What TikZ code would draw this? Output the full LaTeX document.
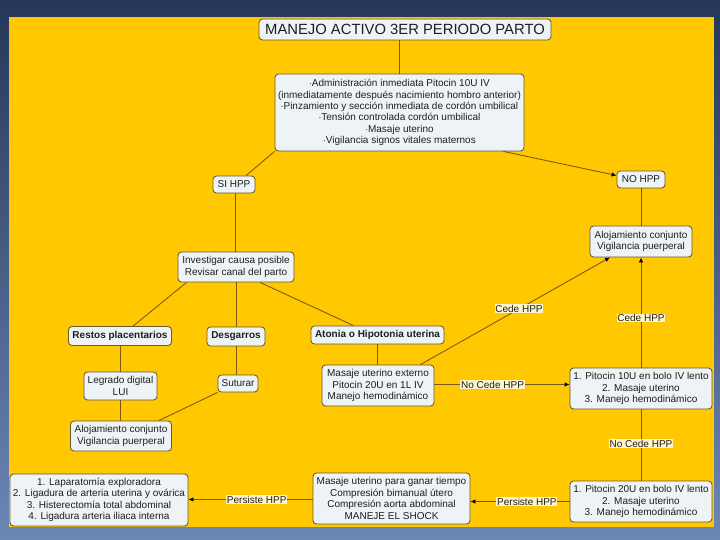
\documentclass[tikz,border=0pt]{standalone}
\usepackage{fontspec}
\setmainfont{Liberation Sans}
\usetikzlibrary{arrows.meta,calc}
\definecolor{bgtop}{RGB}{38,55,88}
\definecolor{bgbot}{RGB}{108,134,182}
\definecolor{ylw}{RGB}{255,200,0}
\definecolor{boxfill}{RGB}{238,243,246}
\definecolor{boxline}{RGB}{105,88,45}
\definecolor{conn}{RGB}{120,88,18}
\definecolor{lblfill}{RGB}{255,246,208}
\definecolor{txt}{RGB}{30,30,30}
\begin{document}
\begin{tikzpicture}[x=1pt,y=-1pt,
  box/.style={draw=boxline,fill=boxfill,rounded corners=3.5pt,line width=0.85pt,
    align=center,inner sep=0pt,font=\fontsize{10}{11.4}\selectfont,text=txt},
  bbox/.style={box,font=\fontsize{10}{11.4}\selectfont\bfseries},
  conline/.style={draw=conn,line width=0.85pt},
  arr/.style={conline,-{Latex[length=5pt,width=4.5pt,color=black]}},
  lbl/.style={fill=lblfill,inner sep=0.8pt,font=\fontsize{10}{11.4}\selectfont,text=txt}
]
\useasboundingbox (0,0) rectangle (720,540);
\shade[top color=bgtop,bottom color=bgbot] (0,0) rectangle (720,540);
\fill[ylw] (9,17) rectangle (714,527);

\node[box,minimum width=292pt,minimum height=21pt,font=\fontsize{14.8}{16}\selectfont] (title) at (405,29.5) {MANEJO ACTIVO 3ER PERIODO PARTO};
\node[box,minimum width=249pt,minimum height=77pt] (main) at (399.5,112.5) {$\cdot$Administración inmediata Pitocin 10U IV\\(inmediatamente después nacimiento hombro anterior)\\$\cdot$Pinzamiento y sección inmediata de cordón umbilical\\$\cdot$Tensión controlada cordón umbilical\\$\cdot$Masaje uterino\\$\cdot$Vigilancia signos vitales maternos};
\node[box,minimum width=42pt,minimum height=17pt] (sihpp) at (234,184.5) {SI HPP};
\node[box,minimum width=48pt,minimum height=17pt] (nohpp) at (641,179.5) {NO HPP};
\node[box,minimum width=102pt,minimum height=31pt] (alojR) at (641,241.5) {Alojamiento conjunto\\Vigilancia puerperal};
\node[box,minimum width=116pt,minimum height=30pt] (invest) at (236,267) {Investigar causa posible\\Revisar canal del parto};
\node[bbox,minimum width=103pt,minimum height=19pt] (restos) at (120,336) {Restos placentarios};
\node[bbox,minimum width=58pt,minimum height=19pt] (desg) at (236,336.5) {Desgarros};
\node[bbox,minimum width=133pt,minimum height=18pt] (atonia) at (377.5,335) {Atonia o Hipotonia uterina};
\node[box,minimum width=73pt,minimum height=28pt] (legrado) at (120.5,386) {Legrado digital\\LUI};
\node[box,minimum width=40pt,minimum height=17pt] (suturar) at (238,383.5) {Suturar};
\node[box,minimum width=101pt,minimum height=30pt] (alojL) at (121,436) {Alojamiento conjunto\\Vigilancia puerperal};
\node[box,minimum width=112pt,minimum height=41pt] (masaje) at (378,385.5) {Masaje uterino externo\\Pitocin 20U en 1L IV\\Manejo hemodinámico};
\node[box,minimum width=142pt,minimum height=41pt] (pit10) at (641,388.5) {1. Pitocin 10U en bolo IV lento\\2. Masaje uterino\\3. Manejo hemodinámico};
\node[box,minimum width=142pt,minimum height=41pt] (pit20) at (641,501.5) {1. Pitocin 20U en bolo IV lento\\2. Masaje uterino\\3. Manejo hemodinámico};
\node[box,minimum width=157pt,minimum height=51pt] (ganar) at (391.5,498.5) {Masaje uterino para ganar tiempo\\Compresión bimanual útero\\Compresión aorta abdominal\\MANEJE EL SHOCK};
\node[box,minimum width=178pt,minimum height=52pt] (lapa) at (99,500) {1. Laparatomía exploradora\\2. Ligadura de arteria uterina y ovárica\\3. Histerectomía total abdominal\\4. Ligadura arteria iliaca interna};

\draw[conline] (title.south -| main.north) -- (main.north);
\draw[conline] (main.south west) -- ([xshift=12pt]sihpp.north);
\draw[arr] ([xshift=-21pt]main.south east) -- ([yshift=4pt]nohpp.west);
\draw[conline] (nohpp.south) -- (alojR.north);
\draw[conline] ([xshift=1pt]sihpp.south) -- ([xshift=1pt]sihpp.south |- invest.north);
\draw[conline] ([xshift=9pt]invest.south west) -- ([xshift=13pt]restos.north);
\draw[conline] (invest.south) -- (desg.north);
\draw[conline] ([xshift=24pt]invest.south) -- ([xshift=-24pt]atonia.north);
\draw[conline] (restos.south) -- (restos.south |- legrado.north);
\draw[conline] (desg.south) -- (desg.south |- suturar.north);
\draw[conline] (legrado.south) -- (legrado.south |- alojL.north);
\draw[conline] (suturar.south west) -- ([xshift=-13pt]alojL.north east);
\draw[conline] (atonia.south) -- (atonia.south |- masaje.north);
\draw[arr] ([xshift=-14pt]masaje.north east) -- node[lbl,pos=0.52] {Cede HPP} ([xshift=-31pt]alojR.south);
\draw[arr] ([yshift=1pt]masaje.east) -- node[lbl,pos=0.43] {No Cede HPP} ([yshift=1pt]masaje.east -| pit10.west);
\draw[arr] (pit10.north) -- node[lbl,pos=0.45] {Cede HPP} (alojR.south);
\draw[conline] (pit10.south) -- node[lbl,pos=0.48] {No Cede HPP} (pit20.north);
\draw[arr] (pit20.west) -- node[lbl,pos=0.43] {Persiste HPP} (pit20.west -| ganar.east);
\draw[arr] ([yshift=-1pt]ganar.west) -- node[lbl,pos=0.45] {Persiste HPP} ([yshift=-1pt]ganar.west -| lapa.east);
\end{tikzpicture}
\end{document}
